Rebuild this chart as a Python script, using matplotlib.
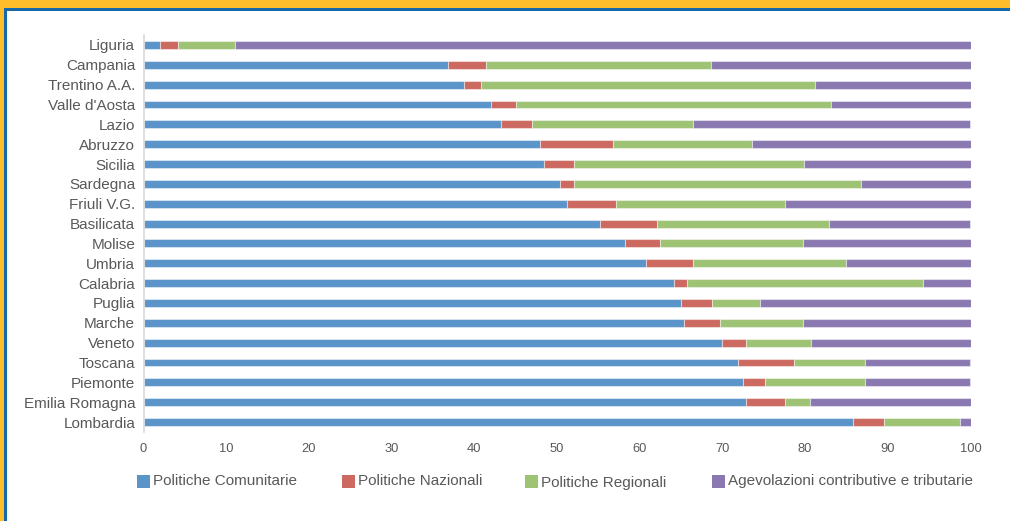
import matplotlib

matplotlib.use("Agg")
import matplotlib.pyplot as plt
from matplotlib.patches import Rectangle

# regions, top to bottom as shown
regions = [
    "Liguria", "Campania", "Trentino A.A.", "Valle d'Aosta", "Lazio",
    "Abruzzo", "Sicilia", "Sardegna", "Friuli V.G.", "Basilicata",
    "Molise", "Umbria", "Calabria", "Puglia", "Marche",
    "Veneto", "Toscana", "Piemonte", "Emilia Romagna", "Lombardia",
]

# shares (%) per funding source
comunitarie = [2.0, 36.8, 38.8, 42.0, 43.2, 48.0, 48.4, 50.4, 51.2, 55.2,
               58.2, 60.8, 64.2, 65.0, 65.4, 70.0, 71.9, 72.5, 72.8, 85.8]
nazionali = [2.2, 4.6, 2.0, 3.0, 3.8, 8.8, 3.7, 1.6, 5.9, 6.9,
             4.2, 5.6, 1.5, 3.8, 4.3, 2.9, 6.8, 2.7, 4.8, 3.7]
regionali = [6.9, 27.2, 40.4, 38.1, 19.5, 16.8, 27.8, 34.7, 20.5, 20.8,
             17.3, 18.5, 28.5, 5.8, 10.0, 7.8, 8.6, 12.1, 3.0, 9.2]
agevolazioni = [100 - a - b - c for a, b, c in zip(comunitarie, nazionali, regionali)]

series_names = ["Politiche Comunitarie", "Politiche Nazionali",
                "Politiche Regionali", "Agevolazioni contributive e tributarie"]
colors = ["#5A94C8", "#CC6961", "#9EC374", "#8A79B0"]
xticks = [0, 10, 20, 30, 40, 50, 60, 70, 80, 90, 100]

W, H = 1010, 521
fig = plt.figure(figsize=(W / 100, H / 100), dpi=100, facecolor="#FEBE2B")

# framed white panel
fig.patches.append(Rectangle((4 / W, 0), 1, 1 - 8 / H, transform=fig.transFigure,
                             facecolor="#1768A8", edgecolor="none", zorder=-2))
fig.patches.append(Rectangle((7 / W, 0), 1, 1 - 11 / H, transform=fig.transFigure,
                             facecolor="white", edgecolor="none", zorder=-1))

ax = fig.add_axes([143.5 / W, (H - 432) / H, 827 / W, 397 / H])
ax.set_facecolor("none")
ax.set_zorder(2)

ypos = list(range(len(regions) - 1, -1, -1))
left = [0.0] * len(regions)
for name, vals, col in zip(series_names,
                           [comunitarie, nazionali, regionali, agevolazioni], colors):
    ax.barh(ypos, vals, left=left, height=0.4, color=col,
            edgecolor=(1, 1, 1, 0.45), linewidth=0.8, label=name)
    left = [l + v for l, v in zip(left, vals)]

ax.set_xlim(0, 100)
ax.set_ylim(-0.5, len(regions) - 0.5)
ax.set_yticks(ypos)
ax.set_yticklabels(regions, fontsize=11, color="#595959",
                   family=["Liberation Sans", "DejaVu Sans"])
ax.set_xticks(xticks)
ax.set_xticklabels([str(t) for t in xticks], fontsize=9.3, color="#595959",
                   family=["Liberation Sans", "DejaVu Sans"])
ax.tick_params(axis="y", length=0, pad=6)
ax.tick_params(axis="x", length=0, pad=8)
for s in ["top", "right", "bottom"]:
    ax.spines[s].set_visible(False)
ax.spines["left"].set_color("#D9D9D9")
ax.spines["left"].set_linewidth(1.2)

# legend laid out like the original
leg_x = [137, 342, 525, 712]
leg_y = [481, 481, 483, 481]
for name, col, lx, ly in zip(series_names, colors, leg_x, leg_y):
    fig.patches.append(Rectangle((lx / W, (H - 488) / H), 13 / W, 13 / H,
                                 transform=fig.transFigure, facecolor=col,
                                 edgecolor="none", zorder=1))
    fig.text((lx + 16) / W, (H - ly) / H, name, fontsize=11, color="#595959",
             va="center", ha="left", family=["Liberation Sans", "DejaVu Sans"])

fig.savefig("out.png", dpi=100, facecolor=fig.get_facecolor())
